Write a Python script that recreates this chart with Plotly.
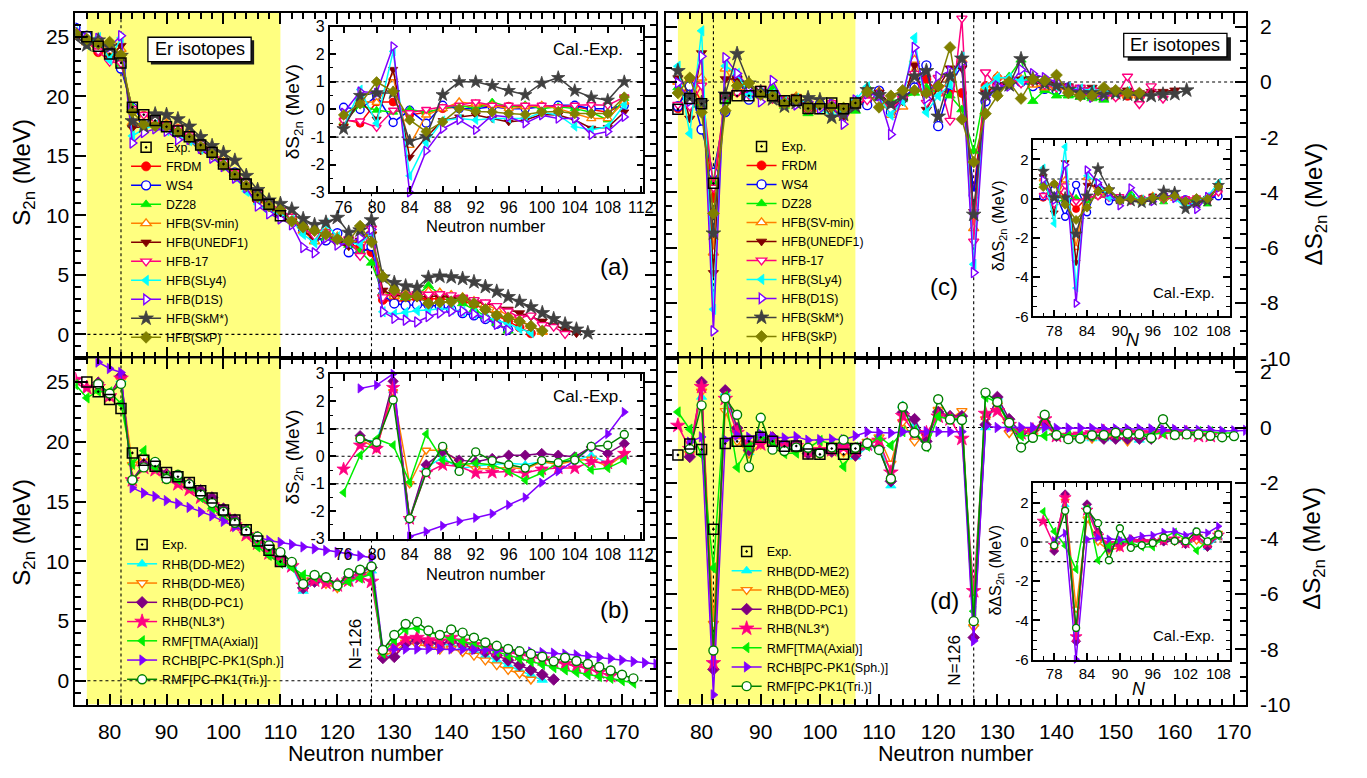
import plotly.graph_objects as go

W, H = 1367, 778
FONT = "Liberation Sans, Arial, sans-serif"


def evens(first, last):
    return list(range(first, last + 1, 2))


def px(x):
    return x / W


def py(y):
    return 1 - y / H


# ---------------- experimental values (Er isotopes) ----------------
S2N_EXP_N0 = 76
S2N_EXP = [25.0, 24.2, 23.55, 22.8, 19.07, 18.45, 17.96, 17.44, 17.08, 16.6,
           15.9, 15.3, 14.3, 13.45, 12.64, 11.7, 10.93, 9.97]
DS2N_EXP_N0 = 76
DS2N_EXP = [-0.99, -0.6, -0.79, -3.67, -0.58, -0.5, -0.5, -0.35, -0.5, -0.68,
            -0.67, -0.96, -0.97, -0.76, -0.97, -0.76]

# ---------------- panel (a): S2n, mass models + non-relativistic HFB ----------------
S2N_FRDM = [25.2, 24.65, 23.7, 23.82, 23.07, 18.87, 18.35, 17.99, 17.54, 17.23,
            16.7, 16.02, 15.4, 14.4, 13.55, 12.74, 11.7, 10.83, 10.17, 9.7,
            8.8, 8.2, 7.9, 8.0, 7.6, 7.3, 6.9, 2.9, 2.75, 2.9,
            3.0, 3.0, 3.0, 2.9, 2.8, 2.5, 2.1, 1.6, 1.1, 0.6, 0.1]
S2N_WS4 = [25.75, 25.08, 24.2, 24.05, 22.33, 19.04, 17.95, 18.11, 17.47, 17.11,
           16.7, 15.93, 15.33, 14.4, 13.6, 12.79, 11.73, 10.96, 10.12, 9.8,
           8.7, 8.1, 7.9, 8.5, 6.9, 6.8, 7.4, 3.3, 2.6, 2.45,
           2.5, 2.5, 2.35, 2.1, 1.8, 1.6, 1.3, 0.9, 0.4]
S2N_DZ28 = [25.3, 24.55, 24.35, 23.52, 22.7, 19.07, 18.35, 17.99, 17.59, 17.11,
            16.87, 16.0, 15.47, 14.33, 13.55, 12.67, 11.6, 10.55, 10.37, 9.8,
            9.1, 8.5, 8.1, 7.9, 7.5, 7.0, 6.0, 3.5, 3.3, 3.1,
            3.3, 4.1, 3.4, 3.1, 2.6, 2.1, 1.55, 0.95, 0.3]
S2N_SVMIN = [25.3, 24.5, 24.5, 23.8, 23.95, 17.77, 18.25, 17.99, 17.71, 17.28,
             16.75, 15.93, 15.4, 14.45, 13.48, 12.49, 11.37, 10.6, 10.24, 9.9,
             8.7, 7.8, 8.6, 8.2, 7.8, 7.9, 8.7, 3.4, 3.2, 3.4,
             3.5, 3.6, 3.5, 3.3, 3.1, 2.8, 2.5, 2.1, 1.6, 1.2, 0.7, 0.2]
S2N_UNEDF1 = [25.1, 24.38, 24.52, 23.2, 24.25, 17.34, 17.45, 17.56, 17.17, 16.88,
              16.27, 15.45, 14.92, 14.12, 13.25, 12.26, 11.02, 10.28, 9.88, 9.5,
              8.7, 8.0, 8.6, 7.6, 7.4, 7.9, 8.4, 3.7, 3.3, 3.2,
              3.1, 3.2, 3.2, 3.1, 3.0, 2.85, 2.6, 2.4, 2.1, 1.8,
              1.5, 1.1, 0.75, 0.4, 0.1]
S2N_HFB17 = [25.2, 24.6, 23.78, 22.9, 22.77, 18.95, 18.45, 18.06, 17.59, 17.35,
             16.75, 16.05, 15.45, 14.45, 13.55, 12.79, 11.87, 11.08, 10.42, 9.9,
             8.9, 8.3, 8.6, 7.85, 8.0, 6.6, 8.9, 3.13, 3.48, 3.3,
             3.4, 3.35, 3.4, 3.3, 3.1, 2.9, 2.7, 2.4, 1.95, 1.4,
             1.6, 0.8, 0.65, 0.05]
S2N_SLY4 = [25.4, 24.35, 24.92, 23.05, 24.9, 16.67, 17.25, 17.56, 17.11, 16.7,
            16.27, 15.57, 14.97, 14.2, 13.25, 12.02, 10.96, 10.31, 10.14, 9.6,
            8.4, 7.7, 9.3, 8.2, 7.7, 7.6, 8.5, 1.9, 1.7, 1.85,
            2.0, 2.05, 2.15, 2.1, 1.95, 1.75, 1.5, 1.2, 0.9, 0.5, 0.15]
S2N_D1S = [25.5, 24.88, 24.85, 24.15, 25.08, 16.07, 16.95, 17.26, 17.06, 16.34,
           16.39, 15.63, 14.8, 14.09, 13.12, 12.31, 10.78, 10.13, 9.7, 9.2,
           7.3, 6.85, 8.1, 7.5, 7.7, 8.1, 8.8, 1.9, 1.35, 1.2,
           1.05, 1.5, 1.8, 1.95, 1.95, 1.7, 1.4, 0.85, 0.35]
S2N_SKMS = [25.0, 24.3, 24.7, 24.15, 23.4, 17.92, 17.47, 18.49, 18.44, 18.08,
            17.46, 16.58, 15.83, 15.25, 14.6, 13.32, 12.14, 11.26, 10.97, 10.5,
            9.7, 9.2, 9.4, 9.8, 8.55, 8.75, 9.6, 4.8, 4.33, 4.05,
            3.94, 4.77, 4.88, 4.82, 4.68, 4.4, 4.0, 3.6, 3.15, 2.75,
            2.3, 1.8, 1.3, 0.85, 0.42, 0.12]
S2N_SKP = [25.3, 24.8, 24.4, 24.55, 23.45, 18.69, 17.65, 17.51, 17.47, 17.01,
           16.51, 15.75, 15.12, 14.21, 13.38, 12.49, 11.55, 10.78, 10.42, 9.5,
           9.0, 8.7, 8.4, 8.0, 7.85, 9.1, 7.75, 4.85, 3.7, 3.2,
           3.2, 2.6, 2.7, 2.75, 3.0, 2.6, 2.1, 1.6, 1.4, 1.1, 0.7, 0.3]

# inset (a): deltaS2n = Cal. - Exp., N = 76..110
DEL_FRDM = [-0.35, -0.5, 0.27, 0.27, -0.2, -0.1, 0.03, 0.1, 0.15, 0.1, 0.12, 0.1, 0.1, 0.1, 0.1, 0.0, -0.1, 0.2]
DEL_WS4 = [0.08, 0.0, 0.5, -0.47, -0.03, -0.5, 0.15, 0.03, 0.03, 0.1, 0.03, 0.03, 0.1, 0.15, 0.15, 0.03, 0.03, 0.15]
DEL_DZ28 = [-0.45, 0.15, -0.03, -0.1, 0.0, -0.1, 0.03, 0.15, 0.03, 0.27, 0.1, 0.17, 0.03, 0.1, 0.03, -0.1, -0.38, 0.4]
DEL_SVMIN = [-0.5, 0.3, 0.25, 1.15, -1.3, -0.2, 0.03, 0.27, 0.2, 0.15, 0.03, 0.1, 0.15, 0.03, -0.15, -0.33, -0.33, 0.27]
DEL_UNEDF1 = [-0.62, 0.32, -0.35, 1.45, -1.73, -1.0, -0.4, -0.27, -0.2, -0.33, -0.45, -0.38, -0.18, -0.2, -0.38, -0.68, -0.65, -0.09]
DEL_HFB17 = [-0.4, -0.42, -0.65, -0.03, -0.12, 0.0, 0.1, 0.15, 0.27, 0.15, 0.15, 0.15, 0.15, 0.1, 0.15, 0.17, 0.15, 0.45]
DEL_SLY4 = [-0.65, 0.72, -0.5, 2.1, -2.4, -1.2, -0.4, -0.33, -0.38, -0.33, -0.33, -0.33, -0.1, -0.2, -0.62, -0.74, -0.62, 0.17]
DEL_D1S = [-0.12, 0.65, 0.6, 2.28, -3.0, -1.5, -0.7, -0.38, -0.74, -0.21, -0.27, -0.5, -0.21, -0.33, -0.33, -0.92, -0.8, -0.27]
DEL_SKMS = [-0.7, 0.5, 0.6, 0.6, -1.15, -0.98, 0.53, 1.0, 1.0, 0.86, 0.68, 0.53, 0.95, 1.15, 0.68, 0.44, 0.33, 1.0]
DEL_SKP = [-0.2, 0.2, 1.0, 0.65, -0.38, -0.8, -0.45, 0.03, -0.07, -0.09, -0.15, -0.18, -0.09, -0.07, -0.15, -0.15, -0.15, 0.45]

# ---------------- panel (c): Delta S2n = S2n(N+2) - S2n(N), from N = 76 ----------------
DS2N_FRDM = [-0.95, 0.12, -0.75, -4.2, -0.52, -0.36, -0.45, -0.31, -0.53, -0.68,
             -0.62, -1.0, -0.85, -0.81, -1.04, -0.87, -0.66, -0.47, -0.9, -0.6,
             -0.3, 0.1, -0.4, -0.3, -0.4, -4.0, -0.15, 0.15, 0.1, 0.0,
             0.0, -0.1, -0.1, -0.3, -0.4, -0.5, -0.5, -0.5, -0.5]
DS2N_WS4 = [-0.88, -0.15, -1.72, -3.29, -1.09, 0.16, -0.64, -0.36, -0.41, -0.77,
            -0.6, -0.93, -0.8, -0.81, -1.06, -0.77, -0.84, -0.32, -1.1, -0.6,
            -0.2, 0.6, -1.6, -0.1, 0.6, -4.1, -0.7, -0.15, 0.05, 0.0,
            -0.15, -0.25, -0.3, -0.2, -0.3, -0.4, -0.5]
DS2N_DZ28 = [-0.2, -0.83, -0.82, -3.63, -0.72, -0.36, -0.4, -0.48, -0.24, -0.87,
             -0.53, -1.14, -0.78, -0.88, -1.07, -1.05, -0.18, -0.57, -0.7, -0.6,
             -0.4, -0.2, -0.4, -0.5, -1.0, -2.5, -0.2, -0.2, 0.2, 0.8,
             -0.7, -0.3, -0.5, -0.5, -0.55, -0.6, -0.65]
DS2N_SVMIN = [0.0, -0.7, 0.15, -6.18, 0.48, -0.26, -0.28, -0.43, -0.53, -0.82,
              -0.53, -0.95, -0.97, -0.99, -1.12, -0.77, -0.36, -0.34, -1.2, -0.9,
              0.8, -0.4, -0.4, 0.1, 0.8, -5.3, -0.2, 0.2, 0.1, 0.1,
              -0.1, -0.2, -0.2, -0.3, -0.3, -0.4, -0.5, -0.4, -0.5, -0.5]
DS2N_UNEDF1 = [0.14, -1.32, 1.05, -6.91, 0.11, 0.11, -0.39, -0.29, -0.61, -0.82,
               -0.53, -0.8, -0.87, -0.99, -1.24, -0.74, -0.4, -0.38, -0.8, -0.7,
               0.6, -1.0, -0.2, 0.5, 0.5, -4.7, -0.4, -0.1, -0.1, 0.1,
               0.0, -0.1, -0.1, -0.15, -0.25, -0.2, -0.3, -0.3, -0.3, -0.4,
               -0.35, -0.35, -0.3]
DS2N_HFB17 = [-0.82, -0.88, -0.13, -3.82, -0.5, -0.39, -0.47, -0.24, -0.6, -0.7,
              -0.6, -1.0, -0.9, -0.76, -0.92, -0.79, -0.66, -0.52, -1.0, -0.6,
              0.3, -0.75, 0.15, -1.4, 2.3, -5.77, 0.35, -0.18, 0.1, -0.05,
              0.05, -0.1, -0.2, -0.2, -0.2, -0.3, -0.45, -0.55, 0.2, -0.8,
              -0.15, -0.6]
DS2N_SLY4 = [0.57, -1.87, 1.85, -8.23, 0.58, 0.31, -0.45, -0.41, -0.43, -0.7,
             -0.6, -0.77, -0.95, -1.23, -1.06, -0.65, -0.17, -0.54, -1.2, -0.7,
             1.6, -1.1, -0.5, -0.1, 0.9, -6.6, -0.2, 0.15, 0.15, 0.05,
             0.1, -0.05, -0.15, -0.2, -0.25, -0.3, -0.3, -0.4, -0.35]
DS2N_D1S = [-0.03, -0.7, 0.93, -9.01, 0.88, 0.31, -0.2, -0.72, 0.05, -0.76,
            -0.83, -0.71, -0.97, -0.81, -1.53, -0.65, -0.43, -0.5, -1.9, -0.45,
            1.25, -0.6, 0.2, 0.4, 0.7, -6.9, -0.55, -0.15, -0.15, 0.45,
            0.3, 0.15, 0.0, -0.25, -0.3, -0.55, -0.5]
DS2N_SKMS = [0.4, -0.55, -0.75, -5.48, -0.45, 1.02, -0.05, -0.36, -0.62, -0.88,
             -0.75, -0.58, -0.65, -1.28, -1.18, -0.88, -0.29, -0.47, -0.8, -0.5,
             0.2, 0.4, -1.25, 0.2, 0.85, -4.8, -0.47, -0.28, -0.11, 0.83,
             0.11, -0.06, -0.14, -0.28, -0.4, -0.4, -0.45, -0.4, -0.45, -0.5,
             -0.5, -0.45, -0.43, -0.3]
DS2N_SKP = [-0.4, 0.15, -1.1, -4.76, -1.04, -0.14, -0.04, -0.46, -0.5, -0.76,
            -0.63, -0.91, -0.83, -0.89, -0.94, -0.77, -0.36, -0.92, -0.5, -0.3,
            -0.3, -0.4, -0.15, 1.25, -1.35, -2.9, -1.15, -0.5, 0.0, -0.6,
            0.1, 0.05, 0.25, -0.4, -0.5, -0.5, -0.2, -0.3, -0.4, -0.4]

# inset (c): delta(Delta S2n) = Cal. - Exp., N = 76..108
DDEL_FRDM = [0.04, 0.72, 0.04, -0.53, 0.06, 0.14, 0.05, 0.04, -0.03, 0.0, 0.05, -0.04, 0.12, -0.05, -0.07, -0.11, 0.3]
DDEL_WS4 = [0.11, 0.45, -0.93, 0.7, -0.7, 0.66, -0.14, -0.01, 0.09, -0.09, 0.07, 0.03, 0.17, -0.05, -0.09, -0.01, 0.12]
DDEL_DZ28 = [0.79, -0.23, -0.03, 0.04, -0.14, 0.14, 0.1, -0.13, 0.26, -0.19, 0.14, -0.18, 0.19, -0.12, -0.1, -0.29, 0.78]
DDEL_SVMIN = [0.99, -0.1, 0.94, -2.51, 1.06, 0.24, 0.22, -0.08, -0.03, -0.14, 0.14, 0.01, 0.0, -0.23, -0.15, -0.01, 0.6]
DDEL_UNEDF1 = [1.13, -0.72, 1.84, -3.24, 0.69, 0.61, 0.11, 0.06, -0.11, -0.14, 0.14, 0.16, 0.1, -0.23, -0.27, 0.02, 0.56]
DDEL_HFB17 = [0.17, -0.28, 0.66, -0.15, 0.08, 0.11, 0.03, 0.11, -0.1, -0.02, 0.07, -0.04, 0.07, 0.0, 0.05, -0.03, 0.3]
DDEL_SLY4 = [1.56, -1.27, 2.64, -4.56, 1.16, 0.81, 0.05, -0.06, 0.07, -0.02, 0.07, 0.19, 0.02, -0.47, -0.09, 0.11, 0.79]
DDEL_D1S = [0.96, -0.1, 1.72, -5.34, 1.46, 0.81, 0.3, -0.37, 0.55, -0.08, -0.16, 0.25, 0.0, -0.05, -0.56, 0.11, 0.53]
DDEL_SKMS = [1.39, 0.05, 0.04, -1.81, 0.13, 1.52, 0.45, -0.01, -0.12, -0.2, -0.08, 0.38, 0.32, -0.52, -0.21, -0.12, 0.67]
DDEL_SKP = [0.59, 0.75, -0.31, -1.09, -0.46, 0.36, 0.46, -0.11, 0.0, -0.08, 0.04, 0.05, 0.14, -0.13, 0.03, -0.01, 0.6]

# ---------------- panel (b): S2n, relativistic models ----------------
S2N_DDME2 = [24.8, 24.1, 25.2, 16.8, 18.05, 17.9, 17.0, 16.73, 16.3, 15.65,
             15.0, 14.1, 13.25, 12.49, 11.74, 10.68, 9.97, 9.6, 7.5, 8.3,
             8.4, 7.98, 8.5, 8.9, 9.2, 2.1, 2.1, 3.2, 3.3, 3.1,
             3.0, 3.0, 2.8, 2.5, 2.1, 1.7, 1.3, 0.9, 0.5, 0.05]
S2N_DDMED = [24.8, 23.85, 25.15, 18.07, 18.67, 18.18, 17.24, 16.63, 16.15, 15.5,
             14.83, 14.1, 13.15, 12.49, 11.59, 10.56, 10.05, 9.7, 8.4, 8.6,
             8.1, 7.76, 8.4, 8.7, 9.3, 2.1, 2.4, 3.2, 3.0, 2.9,
             2.6, 2.7, 2.4, 2.1, 1.7, 1.3, 0.9, 0.6, 0.1]
S2N_DDPC1 = [24.95, 23.89, 25.53, 16.8, 18.14, 18.12, 17.3, 16.88, 16.52, 15.94,
             15.34, 14.4, 13.49, 12.62, 12.04, 11.03, 10.43, 9.7, 7.76, 8.3,
             8.6, 8.1, 8.66, 9.07, 9.48, 1.9, 2.0, 3.1, 3.4, 3.2,
             3.1, 3.3, 3.0, 2.7, 2.4, 2.1, 1.7, 1.3, 0.9, 0.5, 0.1]
S2N_NL3S = [25.2, 24.53, 24.6, 23.83, 25.3, 16.8, 17.84, 17.65, 17.07, 16.47,
            16.01, 15.35, 14.69, 13.83, 13.02, 12.21, 11.5, 10.68, 10.07, 9.6,
            7.98, 8.4, 8.2, 8.0, 8.4, 8.7, 8.3, 2.4, 2.9, 3.5,
            3.6, 3.4, 3.3, 3.6, 3.3, 3.0, 2.75, 2.55, 2.4, 2.2,
            2.0, 1.8, 1.6, 1.4, 1.2, 1.0, 0.7, 0.4]
S2N_TMA = [24.8, 23.68, 24.24, 24.18, 23.2, 18.13, 19.26, 17.82, 17.13, 16.83,
           16.29, 15.35, 14.43, 13.69, 13.22, 12.62, 11.21, 10.5, 9.83, 9.5,
           8.85, 8.7, 8.6, 7.9, 8.3, 8.6, 8.93, 2.3, 3.4, 4.3,
           4.4, 4.1, 3.8, 3.5, 3.3, 3.0, 2.7, 2.4, 2.1, 1.85,
           1.6, 1.35, 1.1, 0.9, 0.7, 0.5, 0.35, 0.2, 0.0, -0.2]
S2N_RCHB = [26.67, 26.14, 25.8, 16.15, 15.71, 15.43, 15.08, 14.84, 14.51, 14.13,
            13.8, 13.34, 12.9, 12.48, 12.04, 11.74, 11.58, 11.4, 11.2, 11.05,
            10.9, 10.75, 10.6, 10.45, 10.3, 2.6, 2.65, 2.65, 2.65, 2.65,
            2.65, 2.65, 2.62, 2.6, 2.58, 2.55, 2.5, 2.45, 2.4, 2.35,
            2.3, 2.22, 2.15, 2.05, 1.95, 1.85, 1.72, 1.6, 1.5, 1.4]
S2N_TRI = [24.83, 24.05, 24.85, 16.8, 17.86, 18.32, 16.89, 17.24, 16.44, 15.59,
           14.87, 14.14, 13.22, 12.5, 12.06, 11.33, 10.76, 9.95, 8.1, 8.85,
           8.66, 7.98, 9.0, 9.29, 9.56, 2.57, 3.83, 4.75, 4.92, 4.2,
           3.83, 4.29, 4.02, 3.6, 3.2, 2.92, 2.65, 2.46, 2.24, 2.0,
           1.62, 1.92, 1.65, 1.4, 1.15, 0.85, 0.5, 0.19]

# inset (b): deltaS2n = Cal. - Exp.
DEL_DDME2 = [0.6, 0.55, 2.4, -2.27, -0.4, -0.05, -0.45, -0.35, -0.3, -0.25, -0.3, -0.2, -0.2, -0.15, 0.04, -0.25, 0.0]
DEL_DDMED = [0.6, 0.3, 2.35, -1.0, 0.22, 0.22, -0.2, -0.45, -0.45, -0.4, -0.47, -0.2, -0.3, -0.15, -0.11, -0.37, 0.08]
DEL_DDPC1 = [0.75, 0.34, 2.73, -2.27, -0.31, 0.16, -0.14, -0.2, -0.08, 0.04, 0.04, 0.1, 0.04, -0.02, 0.34, 0.1, 0.46]
DEL_NL3S = [-0.47, 0.4, 0.28, 2.5, -2.27, -0.61, -0.31, -0.37, -0.61, -0.59, -0.55, -0.61, -0.47, -0.43, -0.43, -0.2, -0.25, 0.1]
DEL_TMA = [-1.32, 0.04, 0.63, 0.4, -0.94, 0.81, -0.14, -0.31, -0.25, -0.31, -0.55, -0.87, -0.61, -0.23, -0.02, -0.49, -0.43, -0.14]
DEL_RCHB = [2.47, 2.59, 3.0, -2.92, -2.74, -2.53, -2.36, -2.24, -2.09, -1.77, -1.5, -0.96, -0.55, -0.16, 0.34, 0.81, 1.61]
DEL_TRI = [0.63, 0.5, 2.05, -2.27, -0.59, 0.36, -0.55, 0.16, -0.16, -0.31, -0.43, -0.16, -0.23, -0.14, 0.36, 0.4, 0.79]

# ---------------- panel (d): Delta S2n, relativistic models ----------------
DS2N_DDME2 = [-0.7, 1.1, -8.4, 1.25, -0.15, -0.9, -0.27, -0.43, -0.65, -0.65,
              -0.9, -0.85, -0.76, -0.75, -1.06, -0.71, -0.37, -2.1, 0.8, 0.1,
              -0.42, 0.52, 0.4, 0.3, -7.1, 0.0, 1.1, 0.1, -0.2, -0.1,
              0.0, -0.2, -0.3, -0.4, -0.4, -0.4, -0.4, -0.4, -0.45]
DS2N_DDMED = [-0.95, 1.3, -7.08, 0.6, -0.49, -0.94, -0.61, -0.48, -0.65, -0.67,
              -0.73, -0.95, -0.66, -0.9, -1.03, -0.51, -0.35, -1.3, 0.2, -0.5,
              -0.34, 0.64, 0.3, 0.6, -7.2, 0.3, 0.8, -0.2, -0.1, -0.3,
              0.1, -0.3, -0.3, -0.4, -0.4, -0.4, -0.3, -0.5]
DS2N_DDPC1 = [-1.06, 1.64, -8.73, 1.34, -0.02, -0.82, -0.42, -0.36, -0.58, -0.6,
              -0.94, -0.91, -0.87, -0.58, -1.01, -0.6, -0.73, -1.94, 0.54, 0.3,
              -0.5, 0.56, 0.41, 0.41, -7.58, 0.1, 1.1, 0.3, -0.2, -0.1,
              0.2, -0.3, -0.3, -0.3, -0.3, -0.4, -0.4, -0.4, -0.4, -0.4]
DS2N_NL3S = [0.07, -0.77, 1.47, -8.5, 1.04, -0.19, -0.58, -0.6, -0.46, -0.66,
             -0.66, -0.86, -0.81, -0.81, -0.71, -0.82, -0.61, -0.47, -1.62, 0.42,
             -0.2, -0.2, 0.4, 0.3, -0.4, -5.9, 0.5, 0.6, 0.1, -0.2,
             -0.1, 0.3, -0.3, -0.3, -0.25, -0.2, -0.15, -0.2, -0.2, -0.2,
             -0.2, -0.2, -0.2, -0.2, -0.3, -0.3]
DS2N_TMA = [0.56, -0.06, -0.98, -5.07, 1.13, -1.44, -0.69, -0.3, -0.54, -0.94,
            -0.92, -0.74, -0.47, -0.6, -1.41, -0.71, -0.67, -0.33, -0.65, -0.15,
            -0.1, -0.7, 0.4, 0.3, 0.33, -6.63, 1.1, 0.9, 0.1, -0.3,
            -0.3, -0.3, -0.2, -0.3, -0.3, -0.3, -0.3, -0.25, -0.25, -0.25,
            -0.25, -0.2, -0.2, -0.2, -0.15, -0.15, -0.2, -0.2]
DS2N_RCHB = [-0.53, -0.34, -9.65, -0.44, -0.28, -0.35, -0.24, -0.33, -0.38, -0.33,
             -0.46, -0.44, -0.42, -0.44, -0.3, -0.16, -0.18, -0.2, -0.15, -0.15,
             -0.15, -0.15, -0.15, -0.15, -7.7, 0.05, 0.0, 0.0, 0.0, 0.0,
             0.0, -0.03, -0.02, -0.02, -0.03, -0.05, -0.05, -0.05, -0.05, -0.05,
             -0.08, -0.07, -0.1, -0.1, -0.1, -0.13, -0.12, -0.1, -0.1]
DS2N_TRI = [-0.78, 0.8, -8.05, 1.06, 0.46, -1.43, 0.35, -0.8, -0.85, -0.72,
            -0.73, -0.92, -0.72, -0.44, -0.73, -0.57, -0.81, -1.85, 0.75, -0.19,
            -0.68, 1.02, 0.29, 0.27, -6.99, 1.26, 0.92, 0.17, -0.72, -0.37,
            0.46, -0.27, -0.42, -0.4, -0.28, -0.27, -0.19, -0.22, -0.24, -0.38,
            0.3, -0.27, -0.25, -0.25, -0.3, -0.35, -0.31]

# inset (d): delta(Delta S2n) = Cal. - Exp.
DDEL_DDME2 = [-0.1, 1.89, -4.73, 1.83, 0.35, -0.4, 0.08, 0.07, 0.03, 0.02, 0.06, 0.12, 0.0, 0.22, -0.3, 0.25]
DDEL_DDMED = [-0.35, 2.09, -3.41, 1.18, 0.01, -0.44, -0.26, 0.02, 0.03, 0.0, 0.23, 0.02, 0.1, 0.07, -0.27, 0.45]
DDEL_DDPC1 = [-0.46, 2.43, -5.06, 1.92, 0.48, -0.32, -0.07, 0.14, 0.1, 0.07, 0.02, 0.06, -0.11, 0.39, -0.25, 0.36]
DDEL_NL3S = [1.06, -0.17, 2.26, -4.83, 1.62, 0.31, -0.08, -0.25, 0.04, 0.02, 0.01, 0.1, 0.16, -0.05, 0.26, -0.06, 0.35]
DDEL_TMA = [1.55, 0.54, -0.19, -1.4, 1.71, -0.94, -0.19, 0.05, -0.04, -0.26, -0.25, 0.22, 0.5, 0.16, -0.44, 0.05, 0.29]
DDEL_RCHB = [0.07, 0.45, -5.98, 0.14, 0.22, 0.15, 0.11, 0.17, 0.3, 0.34, 0.5, 0.53, 0.34, 0.53, 0.46, 0.8]
DDEL_TRI = [-0.18, 1.59, -4.38, 1.64, 0.96, -0.93, 0.7, -0.3, -0.17, -0.05, 0.23, 0.05, 0.04, 0.53, 0.03, 0.39]

# ---------------- series tables: (label, colour, symbol, hollow, arrays with their first N) ----------------
MODELS_NR = [
    ("FRDM", "#FF0000", "circle", False, S2N_FRDM, 74, DS2N_FRDM, 76, DEL_FRDM, 76, DDEL_FRDM, 76),
    ("WS4", "#0000FF", "circle", True, S2N_WS4, 74, DS2N_WS4, 76, DEL_WS4, 76, DDEL_WS4, 76),
    ("DZ28", "#00EE00", "triangle-up", False, S2N_DZ28, 74, DS2N_DZ28, 76, DEL_DZ28, 76, DDEL_DZ28, 76),
    ("HFB(SV-min)", "#FF8000", "triangle-up", True, S2N_SVMIN, 74, DS2N_SVMIN, 76, DEL_SVMIN, 76, DDEL_SVMIN, 76),
    ("HFB(UNEDF1)", "#800000", "triangle-down", False, S2N_UNEDF1, 74, DS2N_UNEDF1, 76, DEL_UNEDF1, 76, DDEL_UNEDF1, 76),
    ("HFB-17", "#FF0080", "triangle-down", True, S2N_HFB17, 74, DS2N_HFB17, 76, DEL_HFB17, 76, DDEL_HFB17, 76),
    ("HFB(SLy4)", "#00FFFF", "triangle-left", False, S2N_SLY4, 74, DS2N_SLY4, 76, DEL_SLY4, 76, DDEL_SLY4, 76),
    ("HFB(D1S)", "#8000FF", "triangle-right", True, S2N_D1S, 74, DS2N_D1S, 76, DEL_D1S, 76, DDEL_D1S, 76),
    ("HFB(SkM*)", "#404040", "star", False, S2N_SKMS, 74, DS2N_SKMS, 76, DEL_SKMS, 76, DDEL_SKMS, 76),
    ("HFB(SkP)", "#808000", "diamond", False, S2N_SKP, 74, DS2N_SKP, 76, DEL_SKP, 76, DDEL_SKP, 76),
]
MODELS_R = [
    ("RHB(DD-ME2)", "#00FFFF", "triangle-up", False, S2N_DDME2, 78, DS2N_DDME2, 78, DEL_DDME2, 78, DDEL_DDME2, 78),
    ("RHB(DD-MEδ)", "#FF8000", "triangle-down", True, S2N_DDMED, 78, DS2N_DDMED, 78, DEL_DDMED, 78, DDEL_DDMED, 78),
    ("RHB(DD-PC1)", "#800080", "diamond", False, S2N_DDPC1, 78, DS2N_DDPC1, 78, DEL_DDPC1, 78, DDEL_DDPC1, 78),
    ("RHB(NL3*)", "#FF0080", "star", False, S2N_NL3S, 74, DS2N_NL3S, 76, DEL_NL3S, 76, DDEL_NL3S, 76),
    ("RMF[TMA(Axial)]", "#00EE00", "triangle-left", False, S2N_TMA, 74, DS2N_TMA, 76, DEL_TMA, 76, DDEL_TMA, 76),
    ("RCHB[PC-PK1(Sph.)]", "#8000FF", "triangle-right", False, S2N_RCHB, 78, DS2N_RCHB, 78, DEL_RCHB, 78, DDEL_RCHB, 78),
    ("RMF[PC-PK1(Tri.)]", "#008000", "circle", True, S2N_TRI, 78, DS2N_TRI, 78, DEL_TRI, 78, DDEL_TRI, 78),
]

fig = go.Figure()


def grid(first, values):
    return evens(first, first + 2 * (len(values) - 1))


def add_model(label, color, symbol, hollow, first, values, xa, ya, size,
              legend=None, rank=None, clip=True):
    star_boost = 2 if symbol == "star" else 0
    marker = dict(symbol=symbol, size=size + star_boost,
                  color="white" if hollow else color,
                  line=dict(color=color, width=1.4 if hollow else 0.8))
    fig.add_trace(go.Scatter(
        x=grid(first, values), y=values, mode="lines+markers", name=label,
        line=dict(color=color, width=1.5), marker=marker,
        xaxis=xa, yaxis=ya, cliponaxis=clip,
        showlegend=legend is not None, legend=legend or "legend",
        legendrank=rank if rank else 1000))


def add_exp(first, values, xa, ya, legend):
    fig.add_trace(go.Scatter(
        x=grid(first, values), y=values, mode="markers", name="Exp.",
        marker=dict(symbol="square-open-dot", size=10, color="black",
                    line=dict(color="black", width=1.5)),
        xaxis=xa, yaxis=ya, showlegend=True, legend=legend, legendrank=1))


# panels (a) and (c)
for k, m in enumerate(MODELS_NR):
    label, color, symbol, hollow = m[:4]
    add_model(label, color, symbol, hollow, m[5], m[4], "x", "y", 9, "legend", k + 2)
add_exp(S2N_EXP_N0, S2N_EXP, "x", "y", "legend")
for k, m in enumerate(MODELS_NR):
    label, color, symbol, hollow = m[:4]
    add_model(label, color, symbol, hollow, m[7], m[6], "x3", "y3", 9, "legend3", k + 2)
add_exp(DS2N_EXP_N0, DS2N_EXP, "x3", "y3", "legend3")
for m in MODELS_NR:
    label, color, symbol, hollow = m[:4]
    add_model(label, color, symbol, hollow, m[9], m[8], "x5", "y5", 8, clip=False)
    add_model(label, color, symbol, hollow, m[11], m[10], "x7", "y7", 7, clip=False)

# panels (b) and (d)
for k, m in enumerate(MODELS_R):
    label, color, symbol, hollow = m[:4]
    add_model(label, color, symbol, hollow, m[5], m[4], "x2", "y2", 9, "legend2", k + 2)
add_exp(S2N_EXP_N0, S2N_EXP, "x2", "y2", "legend2")
for k, m in enumerate(MODELS_R):
    label, color, symbol, hollow = m[:4]
    add_model(label, color, symbol, hollow, m[7], m[6], "x4", "y4", 9, "legend4", k + 2)
add_exp(DS2N_EXP_N0, DS2N_EXP, "x4", "y4", "legend4")
for m in MODELS_R:
    label, color, symbol, hollow = m[:4]
    add_model(label, color, symbol, hollow, m[9], m[8], "x6", "y6", 8, clip=False)
    add_model(label, color, symbol, hollow, m[11], m[10], "x8", "y8", 7, clip=False)


# ---------------- axes ----------------
def plain_ticks(vals):
    return [str(v) for v in vals]


def frame_axis(**kw):
    base = dict(showline=True, linecolor="black", mirror="ticks", ticks="inside",
                tickcolor="black", showgrid=False, zeroline=False,
                tickfont=dict(family=FONT, color="black"))
    base.update(kw)
    return base


LEFT_X = [px(76), px(661)]
RIGHT_X = [px(671), px(1255)]
TOP_Y = [py(359), py(5)]
BOT_Y = [py(714), py(359)]

main_minor_x = dict(ticks="inside", tick0=80, dtick=2, ticklen=6, tickwidth=1.5, tickcolor="black")
RIGHT_VALS = [-10, -8, -6, -4, -2, 0, 2]

layout_axes = dict(
    xaxis=frame_axis(domain=LEFT_X, range=[74, 176], anchor="y", linewidth=2, ticklen=11,
                     tickwidth=2, tick0=80, dtick=10, minor=main_minor_x, showticklabels=False),
    yaxis=frame_axis(domain=TOP_Y, range=[-2, 27], anchor="x", linewidth=2, ticklen=11,
                     tickwidth=2, tick0=0, dtick=5, tickfont=dict(size=21, family=FONT, color="black"),
                     minor=dict(ticks="inside", tick0=0, dtick=1, ticklen=6, tickwidth=1.5, tickcolor="black")),
    xaxis2=frame_axis(domain=LEFT_X, range=[74, 176], anchor="y2", linewidth=2, ticklen=11,
                      tickwidth=2, tick0=80, dtick=10, minor=main_minor_x,
                      tickfont=dict(size=21, family=FONT, color="black"), ticklabelstandoff=7),
    yaxis2=frame_axis(domain=BOT_Y, range=[-2, 27], anchor="x2", linewidth=2, ticklen=11,
                      tickwidth=2, tick0=0, dtick=5, tickfont=dict(size=21, family=FONT, color="black"),
                      minor=dict(ticks="inside", tick0=0, dtick=1, ticklen=6, tickwidth=1.5, tickcolor="black")),
    xaxis3=frame_axis(domain=RIGHT_X, range=[74, 172], anchor="y3", linewidth=2, ticklen=11,
                      tickwidth=2, tick0=80, dtick=10, minor=main_minor_x, showticklabels=False),
    yaxis3=frame_axis(domain=TOP_Y, range=[-10, 2.5], anchor="x3", side="right", linewidth=2,
                      ticklen=11, tickwidth=2, tickmode="array", tickvals=RIGHT_VALS,
                      ticktext=plain_ticks(RIGHT_VALS), ticklabelstandoff=8,
                      tickfont=dict(size=21, family=FONT, color="black"),
                      minor=dict(ticks="inside", tick0=0, dtick=0.5, ticklen=6, tickwidth=1.5, tickcolor="black")),
    xaxis4=frame_axis(domain=RIGHT_X, range=[74, 172], anchor="y4", linewidth=2, ticklen=11,
                      tickwidth=2, tick0=80, dtick=10, minor=main_minor_x,
                      tickfont=dict(size=21, family=FONT, color="black"), ticklabelstandoff=7),
    yaxis4=frame_axis(domain=BOT_Y, range=[-10, 2.5], anchor="x4", side="right", linewidth=2,
                      ticklen=11, tickwidth=2, tickmode="array", tickvals=RIGHT_VALS,
                      ticktext=plain_ticks(RIGHT_VALS), ticklabelstandoff=8,
                      tickfont=dict(size=21, family=FONT, color="black"),
                      minor=dict(ticks="inside", tick0=0, dtick=0.5, ticklen=6, tickwidth=1.5, tickcolor="black")),
)

INSET_AB_X = [px(332), px(648)]
INSET_CD_X = [px(1041), px(1239)]
AB_YVALS = [-3, -2, -1, 0, 1, 2, 3]
CD_YVALS = [-6, -4, -2, 0, 2]


def inset_x(domain, rng, anchor, t0, dt, fs):
    return frame_axis(domain=domain, range=rng, anchor=anchor, linewidth=1.5, ticklen=7,
                      tickwidth=1.5, tick0=t0, dtick=dt,
                      tickfont=dict(size=fs, family=FONT, color="black"),
                      minor=dict(ticks="inside", tick0=t0, dtick=2, ticklen=4, tickwidth=1, tickcolor="black"))


def inset_y(domain, rng, anchor, vals, fs):
    return frame_axis(domain=domain, range=rng, anchor=anchor, linewidth=1.5, ticklen=7,
                      tickwidth=1.5, tickmode="array", tickvals=vals, ticktext=plain_ticks(vals),
                      tickfont=dict(size=fs, family=FONT, color="black"),
                      minor=dict(ticks="inside", tick0=0, dtick=0.5, ticklen=4, tickwidth=1, tickcolor="black"))


layout_axes.update(
    xaxis5=inset_x(INSET_AB_X, [74.3, 112.3], "y5", 76, 4, 16),
    yaxis5=inset_y([py(189), py(19)], [-3, 3], "x5", AB_YVALS, 16),
    xaxis6=inset_x(INSET_AB_X, [74.3, 112.3], "y6", 76, 4, 16),
    yaxis6=inset_y([py(544), py(375)], [-3, 3], "x6", AB_YVALS, 16),
    xaxis7=inset_x(INSET_CD_X, [74.2, 110.1], "y7", 78, 6, 15),
    yaxis7=inset_y([py(316), py(135)], [-6, 3], "x7", CD_YVALS, 15),
    xaxis8=inset_x(INSET_CD_X, [74.2, 110.1], "y8", 78, 6, 15),
    yaxis8=inset_y([py(668), py(487)], [-6, 3], "x8", CD_YVALS, 15),
)

# ---------------- shapes ----------------
shapes = []
DASH = dict(color="black", width=1.1, dash="3px,3px")
YELLOW = "#FFFF80"
panels = [("x", "y", 74, 176, -2, 27, 110), ("x2", "y2", 74, 176, -2, 27, 110),
          ("x3", "y3", 74, 172, -10, 2.5, 106), ("x4", "y4", 74, 172, -10, 2.5, 106)]
for xa, ya, x0, x1, y0, y1, band_end in panels:
    shapes.append(dict(type="rect", xref=xa, yref=ya, x0=76, x1=band_end, y0=y0, y1=y1,
                       fillcolor=YELLOW, line=dict(width=0), layer="below"))
    shapes.append(dict(type="line", xref=xa, yref=ya, x0=x0, x1=x1, y0=0, y1=0,
                       line=DASH, layer="below"))
    for magic in (82, 126):
        shapes.append(dict(type="line", xref=xa, yref=ya, x0=magic, x1=magic, y0=y0, y1=y1,
                           line=DASH, layer="below"))

inset_guides = [("x5", "y5", 74.3, 112.3, (-1, 1)), ("x6", "y6", 74.3, 112.3, (-1, 0, 1)),
                ("x7", "y7", 74.2, 110.1, (-1, 1)), ("x8", "y8", 74.2, 110.1, (-1, 0, 1))]
for xa, ya, x0, x1, levels in inset_guides:
    for lv in levels:
        shapes.append(dict(type="line", xref=xa, yref=ya, x0=x0, x1=x1, y0=lv, y1=lv,
                           line=DASH, layer="below"))

# "Er isotopes" labels with drop shadow
for (l, t, r, b, off) in [(149, 30, 253, 55, 3), (1132, 26, 1236, 50, 4)]:
    shapes.append(dict(type="rect", xref="paper", yref="paper", x0=px(l + off), x1=px(r + off),
                       y0=py(b + off), y1=py(t + off), fillcolor="#1a1a1a", line=dict(width=0),
                       layer="above"))
    shapes.append(dict(type="rect", xref="paper", yref="paper", x0=px(l), x1=px(r),
                       y0=py(b), y1=py(t), fillcolor="white", line=dict(color="black", width=1.3),
                       layer="above"))

# ---------------- text ----------------
ann = []


def text(x, y, s, size, angle=0, italic=False):
    if italic:
        s = "<i>" + s + "</i>"
    ann.append(dict(x=px(x), y=py(y), xref="paper", yref="paper", text=s, showarrow=False,
                    textangle=angle, xanchor="center", yanchor="middle",
                    font=dict(family=FONT, size=size, color="black")))


text(24, 168, "S<sub>2n</sub> (MeV)", 24, -90)
text(24, 537, "S<sub>2n</sub> (MeV)", 24, -90)
text(1325, 201, "ΔS<sub>2n</sub> (MeV)", 24, -90)
text(1323, 554, "ΔS<sub>2n</sub> (MeV)", 24, -90)
text(368, 765, "Neutron number", 21.5)
text(963, 765, "Neutron number", 21.5)
text(297, 106, "δS<sub>2n</sub> (MeV)", 19, -90)
text(296, 460, "δS<sub>2n</sub> (MeV)", 19, -90)
text(490, 223, "Neutron number", 16.5)
text(490, 580, "Neutron number", 16.5)
text(1007, 223, "δΔS<sub>2n</sub> (MeV)", 16, -90)
text(1004, 576, "δΔS<sub>2n</sub> (MeV)", 16, -90)
text(1141, 340, "N", 18, italic=True)
text(1147, 698, "N", 18, italic=True)
text(592, 43, "Cal.-Exp.", 17)
text(592, 398, "Cal.-Exp.", 17)
text(1193, 292, "Cal.-Exp.", 15)
text(1193, 643, "Cal.-Exp.", 15)
text(619, 265, "(a)", 24)
text(619, 617, "(b)", 24)
text(951, 285, "(c)", 24)
text(951, 607, "(d)", 24)
text(358, 652, "N=126", 17, -90)
text(962, 668, "N=126", 17, -90)
text(201, 42.5, "Er isotopes", 18)
text(1184, 38, "Er isotopes", 18)


def legend_box(x, y, size):
    return dict(x=px(x), y=py(y), xanchor="left", yanchor="top", bgcolor="rgba(0,0,0,0)",
                borderwidth=0, itemwidth=30, tracegroupgap=0, traceorder="normal",
                font=dict(family=FONT, size=size, color="black"))


fig.update_layout(
    width=W, height=H, margin=dict(l=0, r=0, t=0, b=0),
    paper_bgcolor="white", plot_bgcolor="white",
    font=dict(family=FONT, color="black"),
    shapes=shapes, annotations=ann,
    legend=legend_box(127, 128, 12.3),
    legend2=legend_box(123, 535, 12.5),
    legend3=legend_box(747, 127, 12.3),
    legend4=legend_box(732, 542, 12.5),
    **layout_axes,
)

fig.write_html("out.html")
